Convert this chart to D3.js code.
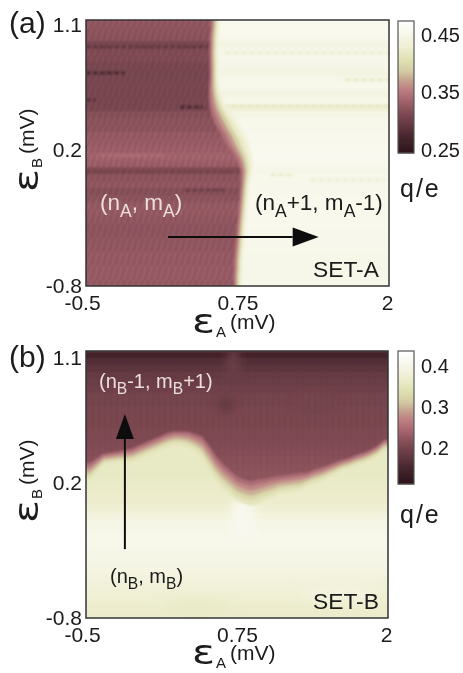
<!DOCTYPE html>
<html>
<head>
<meta charset="utf-8">
<script src="https://cdn.jsdelivr.net/npm/d3@7"></script>
<style>
  html, body { margin: 0; padding: 0; background: #fff; }
  svg { display: block; }
  text { font-family: "Liberation Sans", Arial, sans-serif; fill: #1a1a1a; }
</style>
</head>
<body>
<div id="chart"></div>
<script>
// shared colour ramp, position along the colour bar (0 bottom, 1 top)
const rampStops = [0, 0.15, 0.3, 0.4, 0.48, 0.55, 0.62, 0.7, 0.8, 0.9, 1];
const rampColors = ['#2a141a', '#4f2c34', '#7e4a53', '#a5646e', '#bd7d82', '#c5a08f', '#d3cba2', '#dfe0b2', '#eeeed0', '#f7f7ea', '#ffffff'];

const xTicks = [-0.5, 0.75, 2];
const yTicks = [1.1, 0.2, -0.8];

// panel a: one entry per horizontal scan, top to bottom
const boundaryA = [0.56, 0.555, 0.55, 0.55, 0.548, 0.548, 0.55, 0.55, 0.55, 0.55, 0.555, 0.565, 0.58, 0.605, 0.635, 0.665, 0.70, 0.725, 0.755, 0.785, 0.805, 0.815, 0.81, 0.805, 0.80, 0.795, 0.79, 0.785, 0.78, 0.775, 0.77, 0.765, 0.76, 0.755, 0.75, 0.75, 0.745, 0.745];
const edgeWidthA = [0.03, 0.03, 0.03, 0.03, 0.03, 0.03, 0.03, 0.03, 0.03, 0.035, 0.04, 0.05, 0.06, 0.07, 0.08, 0.08, 0.08, 0.08, 0.07, 0.06, 0.05, 0.04, 0.035, 0.03, 0.03, 0.03, 0.03, 0.03, 0.03, 0.03, 0.03, 0.03, 0.03, 0.03, 0.03, 0.03, 0.03, 0.03];
const lowA = [0.328, 0.326, 0.324, 0.313, 0.317, 0.317, 0.313, 0.311, 0.313, 0.313, 0.313, 0.313, 0.313, 0.321, 0.325, 0.325, 0.33, 0.332, 0.335, 0.339, 0.335, 0.317, 0.325, 0.328, 0.321, 0.325, 0.33, 0.33, 0.328, 0.326, 0.326, 0.328, 0.328, 0.33, 0.33, 0.332, 0.332, 0.33];
const highA = [0.456, 0.456, 0.454, 0.444, 0.45, 0.452, 0.449, 0.444, 0.45, 0.451, 0.444, 0.45, 0.434, 0.446, 0.451, 0.452, 0.453, 0.454, 0.456, 0.457, 0.454, 0.449, 0.451, 0.452, 0.452, 0.453, 0.454, 0.454, 0.453, 0.453, 0.452, 0.452, 0.451, 0.45, 0.45, 0.45, 0.45, 0.45];
// [eA from, eA to, eB, q]
const streaksA = [
  [-0.5, 0.5, 0.907, 0.29], [-0.5, -0.18, 0.721, 0.27], [-0.5, -0.42, 0.529, 0.28],
  [0.276, 0.465, 0.479, 0.27], [-0.5, 0.7, 0.015, 0.305], [0.317, 0.647, -0.114, 0.3],
  [-0.38, 0.136, 0.136, 0.345],
  [0.647, 2, 0.864, 0.425], [1.637, 2, 0.672, 0.42], [0.565, 2, 0.486, 0.415],
  [1.02, 1.22, -0.007, 0.425], [1.35, 1.97, -0.042, 0.43]
];

// panel b: boundary per vertical scan, band values per horizontal scan
const boundaryB = [0.253, 0.296, 0.339, 0.346, 0.353, 0.36, 0.367, 0.388, 0.41, 0.431, 0.452, 0.474, 0.488, 0.488, 0.481, 0.46, 0.431, 0.36, 0.282, 0.225, 0.182, 0.139, 0.118, 0.104, 0.118, 0.132, 0.146, 0.161, 0.168, 0.175, 0.182, 0.196, 0.218, 0.232, 0.253, 0.275, 0.296, 0.31, 0.331, 0.346, 0.367, 0.396, 0.438];
const edgeWidthB = [0.05, 0.04, 0.03, 0.03, 0.03, 0.035, 0.04, 0.04, 0.04, 0.04, 0.04, 0.04, 0.04, 0.04, 0.045, 0.05, 0.06, 0.07, 0.07, 0.07, 0.07, 0.07, 0.07, 0.07, 0.07, 0.06, 0.06, 0.05, 0.05, 0.05, 0.05, 0.04, 0.04, 0.04, 0.035, 0.035, 0.03, 0.03, 0.03, 0.03, 0.03, 0.03, 0.03];
const darkB = [0.145, 0.165, 0.175, 0.185, 0.19, 0.195, 0.2, 0.2, 0.203, 0.205, 0.205, 0.208, 0.21, 0.212, 0.215, 0.218, 0.22, 0.222, 0.222, 0.222, 0.222, 0.222, 0.222, 0.222, 0.222, 0.222, 0.222, 0.222, 0.222, 0.222, 0.222, 0.222, 0.222, 0.222, 0.222, 0.222, 0.222, 0.222];
const lightB = [0.36, 0.36, 0.36, 0.36, 0.36, 0.36, 0.36, 0.36, 0.36, 0.36, 0.36, 0.36, 0.36, 0.36, 0.36, 0.36, 0.36, 0.36, 0.362, 0.365, 0.368, 0.37, 0.38, 0.39, 0.4, 0.402, 0.404, 0.404, 0.402, 0.4, 0.398, 0.392, 0.388, 0.384, 0.378, 0.374, 0.37, 0.368];
// [eA, eB, radius x, radius y, q]
const patchesB = [
  [0.66, 0.72, 8, 9, 0.185], [0.72, 0.98, 7, 20, 0.19], [1.4, 0.72, 20, 11, 0.2],
  [0.8, -0.1, 12, 24, 0.41], [0.42, -0.72, 34, 7, 0.362], [1.6, -0.62, 40, 9, 0.39]
];

// positions along each colour bar
const barA = { q: [0.245, 0.474], ticks: [0.25, 0.35, 0.45] };
const barB = { q: [0.112, 0.437], ticks: [0.2, 0.3, 0.4] };

const width = 463, height = 673;
const svg = d3.select('#chart').append('svg').attr('width', width).attr('height', height);
const defs = svg.append('defs');

defs.append('filter').attr('id', 'soft').attr('x', '-5%').attr('y', '-5%').attr('width', '110%').attr('height', '110%')
  .append('feGaussianBlur').attr('stdDeviation', 0.8);
defs.append('filter').attr('id', 'softer').attr('x', '-30%').attr('y', '-30%').attr('width', '160%').attr('height', '160%')
  .append('feGaussianBlur').attr('stdDeviation', 4);
defs.append('filter').attr('id', 'print').attr('x', '-5%').attr('y', '-5%').attr('width', '110%').attr('height', '110%')
  .append('feGaussianBlur').attr('stdDeviation', 0.35);

// ripple seen across the scans
function ripple(id, w, h, path, opacity) {
  defs.append('pattern').attr('id', id).attr('patternUnits', 'userSpaceOnUse').attr('width', w).attr('height', h)
    .append('path').attr('d', path).attr('fill', 'none').attr('stroke', '#2a141a').attr('stroke-width', 1.5).attr('opacity', opacity);
}
ripple('rippleA', 6, 14, 'M5,0L1,14M11,0L7,14M-1,0L-5,14', 0.22);
ripple('rippleB', 6, 30, 'M3,0L3,30', 0.05);

function ramp(qDomain) {
  const t = d3.scaleLinear().domain(qDomain).range([0, 1]);
  const c = d3.scaleLinear().domain(rampStops).range(rampColors).clamp(true);
  return q => c(t(q));
}

function panel(top, bottom, right) {
  const x = d3.scaleLinear().domain([-0.5, 2]).range([86, right]);
  const y = d3.scaleLinear().domain([1.1, -0.8]).range([top, bottom]);
  return { x, y, top, bottom, left: 86, right };
}

function frame(g, p) {
  g.append('rect').attr('x', p.left).attr('y', p.top).attr('width', p.right - p.left).attr('height', p.bottom - p.top)
    .attr('fill', 'none').attr('stroke', '#333').attr('stroke-width', 1.5);
}

function axes(g, p, yShift, xPad) {
  const xShift = [-4, 0, -2];
  g.append('g').attr('transform', `translate(0,${p.bottom})`)
    .call(d3.axisBottom(p.x).tickValues(xTicks).tickSize(0).tickPadding(xPad).tickFormat(d => d))
    .call(a => a.select('.domain').remove())
    .call(a => a.selectAll('text').attr('font-size', 21).attr('dx', (d, i) => xShift[i]));
  g.append('g').attr('transform', `translate(${p.left},0)`)
    .call(d3.axisLeft(p.y).tickValues(yTicks).tickSize(0).tickPadding(4).tickFormat(d => d))
    .call(a => a.select('.domain').remove())
    .call(a => a.selectAll('text').attr('font-size', 21).attr('transform', (d, i) => `translate(0,${yShift[i]})`));
}

// epsilon is its own element so it can be stretched like the original glyph
function axisTitle(g, tx, ty, rotate, sub) {
  const t = g.append('g').attr('transform', `translate(${tx},${ty}) rotate(${rotate})`);
  t.append('text').attr('transform', 'scale(1.25,1)').style('font-family', '"DejaVu Sans"')
    .attr('font-size', 34).text('ε');
  t.append('text').attr('x', 24).attr('y', 4).attr('font-size', 15).text(sub);
  t.append('text').attr('x', 38).attr('y', -4).attr('font-size', 21).text('(mV)');
}

function colorbar(g, bar, bx, bTop, bBottom, color, labelX) {
  const s = d3.scaleLinear().domain(bar.q).range([bBottom, bTop]);
  const steps = d3.range(bBottom, bTop, -1);
  g.append('g').selectAll('rect').data(steps).join('rect')
    .attr('x', bx).attr('y', d => d - 1).attr('width', 16).attr('height', 1.4)
    .attr('fill', d => color(s.invert(d - 0.5)));
  g.append('rect').attr('x', bx).attr('y', bTop).attr('width', 16).attr('height', bBottom - bTop)
    .attr('fill', 'none').attr('stroke', '#555').attr('stroke-width', 1.2);
  g.append('g').attr('transform', `translate(${bx + 16},0)`)
    .call(d3.axisRight(s).tickValues(bar.ticks).tickSize(0).tickPadding(labelX).tickFormat(d => d))
    .call(a => a.select('.domain').remove())
    .call(a => a.selectAll('text').attr('font-size', 20));
}

function arrow(g, p, from, to, head, wing) {
  const x0 = p.x(from[0]), y0 = p.y(from[1]), x1 = p.x(to[0]), y1 = p.y(to[1]);
  const len = Math.hypot(x1 - x0, y1 - y0), ux = (x1 - x0) / len, uy = (y1 - y0) / len;
  const bx = x1 - ux * head, by = y1 - uy * head;
  g.append('line').attr('x1', x0).attr('y1', y0).attr('x2', bx).attr('y2', by).attr('stroke', '#111').attr('stroke-width', 2);
  g.append('path').attr('fill', '#111')
    .attr('d', d3.line()([[x1, y1], [bx - uy * wing, by + ux * wing], [bx + uy * wing, by - ux * wing]]) + 'Z');
}

function label(g, tx, ty, size, color, parts) {
  const t = g.append('text').attr('x', tx).attr('y', ty).attr('font-size', size).style('fill', color);
  parts.forEach(([s, sub], i) => {
    const prev = i > 0 && parts[i - 1][1];
    t.append('tspan').attr('font-size', sub ? size * 0.78 : size)
      .attr('dy', sub ? size * 0.32 : (prev ? -size * 0.32 : 0)).text(s);
  });
}

// ---------- panel a ----------
const pa = panel(20, 286, 389);
const colorA = ramp(barA.q);
const gA = svg.append('g');
defs.append('clipPath').attr('id', 'clipA').append('rect')
  .attr('x', pa.left).attr('y', pa.top).attr('width', pa.right - pa.left).attr('height', pa.bottom - pa.top);
const heatA = gA.append('g').attr('clip-path', 'url(#clipA)').append('g').attr('filter', 'url(#soft)');

const rowA = d3.scaleBand().domain(d3.range(boundaryA.length)).range([pa.top, pa.bottom]);
const edgeProfileA = [[1.5, 0.44], [1, 0.42], [0.5, 0.39], [0, 0.365], [-0.5, 0.345], [-1, 0.335]];

heatA.append('g').selectAll('rect').data(highA).join('rect')
  .attr('x', pa.left - 10).attr('width', pa.right - pa.left + 20)
  .attr('y', (d, i) => rowA(i)).attr('height', rowA.bandwidth() + 0.5)
  .attr('fill', d => colorA(d));

const rowPtsA = boundaryA.map((b, i) => ({ py: rowA(i) + rowA.bandwidth() / 2, b, w: edgeWidthA[i] }));
const ptsA = [{ ...rowPtsA[0], py: pa.top - 10 }, ...rowPtsA, { ...rowPtsA[rowPtsA.length - 1], py: pa.bottom + 10 }];
const areaA = k => d3.area().x0(pa.left - 10).x1(d => pa.x(d.b + k * d.w)).y(d => d.py)(ptsA);

// right hand streaks sit under the edge layers
const streakLayerA = (list) => heatA.append('g').selectAll('line').data(list).join('line')
  .attr('x1', d => pa.x(d[0])).attr('x2', d => pa.x(d[1]))
  .attr('y1', d => pa.y(d[2])).attr('y2', d => pa.y(d[2]))
  .attr('stroke', d => colorA(d[3])).attr('stroke-width', 2.6).attr('stroke-dasharray', '6 2');
streakLayerA(streaksA.filter(d => d[3] > 0.4));

edgeProfileA.forEach(([k, q]) => {
  heatA.append('path').attr('d', areaA(k)).attr('fill', colorA(q));
});

defs.append('clipPath').attr('id', 'leftA').append('path').attr('d', areaA(-1));
const leftA = heatA.append('g').attr('clip-path', 'url(#leftA)');
leftA.append('g').selectAll('rect').data(lowA).join('rect')
  .attr('x', pa.left - 10).attr('width', pa.right - pa.left + 20)
  .attr('y', (d, i) => rowA(i)).attr('height', rowA.bandwidth() + 0.5)
  .attr('fill', d => colorA(d));
leftA.append('rect').attr('x', pa.left - 10).attr('y', pa.top - 10)
  .attr('width', pa.right - pa.left + 20).attr('height', pa.bottom - pa.top + 20).attr('fill', 'url(#rippleA)');
leftA.append('g').selectAll('line').data(streaksA.filter(d => d[3] <= 0.4)).join('line')
  .attr('x1', d => pa.x(d[0])).attr('x2', d => pa.x(d[1]))
  .attr('y1', d => pa.y(d[2])).attr('y2', d => pa.y(d[2]))
  .attr('stroke', d => colorA(d[3])).attr('stroke-width', 3).attr('stroke-dasharray', '5 2');

frame(gA, pa);

// ---------- panel b ----------
const pb = panel(351, 618, 388);
const colorB = ramp(barB.q);
const gB = svg.append('g');
defs.append('clipPath').attr('id', 'clipB').append('rect')
  .attr('x', pb.left).attr('y', pb.top).attr('width', pb.right - pb.left).attr('height', pb.bottom - pb.top);
const heatB = gB.append('g').attr('clip-path', 'url(#clipB)').append('g').attr('filter', 'url(#soft)');

const rowB = d3.scaleBand().domain(d3.range(darkB.length)).range([pb.top, pb.bottom]);
const colB = d3.scaleBand().domain(d3.range(boundaryB.length)).range([pb.left, pb.right]);
const edgeProfileB = [[-1.5, 0.35], [-1, 0.33], [-0.5, 0.30], [0, 0.275], [0.5, 0.25], [1, 0.235]];

heatB.append('g').selectAll('rect').data(lightB).join('rect')
  .attr('x', pb.left - 10).attr('width', pb.right - pb.left + 20)
  .attr('y', (d, i) => rowB(i)).attr('height', rowB.bandwidth() + 0.5)
  .attr('fill', d => colorB(d));

const patchLayer = (g, p, list, color) => g.append('g').attr('filter', 'url(#softer)')
  .selectAll('ellipse').data(list).join('ellipse')
  .attr('cx', d => p.x(d[0])).attr('cy', d => p.y(d[1])).attr('rx', d => d[2]).attr('ry', d => d[3])
  .attr('fill', d => color(d[4]));
patchLayer(heatB, pb, patchesB.filter(d => d[4] > 0.3), colorB);

const colPtsB = boundaryB.map((b, i) => ({ px: colB(i) + colB.bandwidth() / 2, b, w: edgeWidthB[i] }));
const ptsB = [{ ...colPtsB[0], px: pb.left - 10 }, ...colPtsB, { ...colPtsB[colPtsB.length - 1], px: pb.right + 10 }];
const areaB = k => d3.area().x(d => d.px).y0(pb.top - 10).y1(d => pb.y(d.b + k * d.w))(ptsB);

edgeProfileB.forEach(([k, q]) => {
  heatB.append('path').attr('d', areaB(k)).attr('fill', colorB(q));
});

defs.append('clipPath').attr('id', 'topB').append('path').attr('d', areaB(1));
const topB = heatB.append('g').attr('clip-path', 'url(#topB)');
topB.append('g').selectAll('rect').data(darkB).join('rect')
  .attr('x', pb.left - 10).attr('width', pb.right - pb.left + 20)
  .attr('y', (d, i) => rowB(i)).attr('height', rowB.bandwidth() + 0.5)
  .attr('fill', d => colorB(d));
patchLayer(topB, pb, patchesB.filter(d => d[4] <= 0.3), colorB);
topB.append('rect').attr('x', pb.left - 10).attr('y', pb.top - 10)
  .attr('width', pb.right - pb.left + 20).attr('height', pb.bottom - pb.top + 20).attr('fill', 'url(#rippleB)');

frame(gB, pb);

// ---------- text and arrows ----------
const ink = svg.append('g').attr('filter', 'url(#print)');

arrow(ink, pa, [0.177, -0.45], [1.42, -0.45], 26, 9.5);
arrow(ink, pb, [-0.178, -0.31], [-0.178, 0.652], 25, 9);

axes(ink, pa, [5, 4, 0], 9);
axes(ink, pb, [7, 5, 0], 9);
axisTitle(ink, 192, 333, 0, 'A');
axisTitle(ink, 192, 664, 0, 'A');
axisTitle(ink, 38, 192, -90, 'B');
axisTitle(ink, 38, 523, -90, 'B');

colorbar(ink, barA, 398, 21, 153, colorA, 7);
colorbar(ink, barB, 398, 351, 484, colorB, 7);

ink.append('text').attr('x', 9).attr('y', 33).attr('font-size', 30).text('(a)');
ink.append('text').attr('x', 9).attr('y', 367).attr('font-size', 30).text('(b)');
ink.append('text').attr('x', 400).attr('y', 197).attr('font-size', 25).attr('letter-spacing', 2).text('q/e');
ink.append('text').attr('x', 400).attr('y', 523).attr('font-size', 25).attr('letter-spacing', 2).text('q/e');

label(ink, 100, 210, 22.5, '#eadfdc', [['(n'], ['A', 1], [', m'], ['A', 1], [')']]);
label(ink, 255, 210, 22.5, '#1a1a1a', [['(n'], ['A', 1], ['+1, m'], ['A', 1], ['-1)']]);
label(ink, 99, 388, 20, '#eadfdc', [['(n'], ['B', 1], ['-1, m'], ['B', 1], ['+1)']]);
label(ink, 110, 583, 20, '#1a1a1a', [['(n'], ['B', 1], [', m'], ['B', 1], [')']]);
label(ink, 313, 277, 22.8, '#1a1a1a', [['SET-A']]);
label(ink, 313, 609, 22.8, '#1a1a1a', [['SET-B']]);
</script>
</body>
</html>
